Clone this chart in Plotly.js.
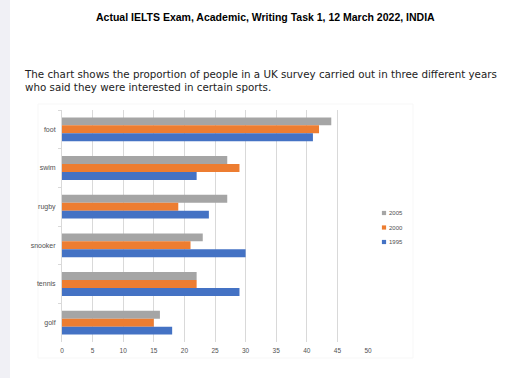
<!DOCTYPE html>
<html><head><meta charset="utf-8">
<script src="https://cdn.plot.ly/plotly-3.0.1.min.js"></script>
<style>html,body{margin:0;padding:0;background:#fff;}#chart{width:512px;height:378px;}</style>
</head><body><div id="chart"></div>
<script>
const sports = ["foot", "swim", "rugby", "snooker", "tennis", "golf"];
const years = ["2005", "2000", "1995"];
const v2005 = [44, 27, 27, 23, 22, 16];
const v2000 = [42, 29, 19, 21, 22, 15];
const v1995 = [41, 22, 24, 30, 29, 18];
const xTicks = [0, 5, 10, 15, 20, 25, 30, 35, 40, 45, 50];
const pageTitle = "Actual IELTS Exam, Academic, Writing Task 1, 12 March 2022, INDIA";
const description = "The chart shows the proportion of people in a UK survey carried out in three different years<br>who said they were interested in certain sports.";

const colors = ["#a5a5a5", "#ed7d31", "#4472c4"];
const series = [v2005, v2000, v1995];

// plot-area pixel geometry
const L = 62, R = 368, T = 110, B = 342, W = 512, H = 378;
const px = x => (x - L) / (R - L);
const py = y => (B - y) / (B - T);

const traces = series.map((vals, i) => ({
  type: "bar", orientation: "h", name: years[i], y: sports, x: vals,
  marker: {color: colors[i], line: {width: 0}},
  hoverinfo: "x+y+name"
}));

const layout = {
  width: W, height: H,
  margin: {l: L, r: W - R, t: T, b: H - B, pad: 0},
  paper_bgcolor: "#ffffff", plot_bgcolor: "#ffffff",
  barmode: "group", bargap: 0.385, bargroupgap: 0,
  font: {family: "Liberation Sans, Arial, sans-serif", color: "#505050", size: 6},
  xaxis: {
    range: [0, 50], tickvals: xTicks, ticktext: xTicks.map(String),
    showgrid: true, gridcolor: "#d9d9d9", gridwidth: 1, zeroline: false,
    showline: false, ticks: "", ticklabelstandoff: 3,
    tickfont: {size: 6.5, color: "#505050"}, fixedrange: true
  },
  yaxis: {
    type: "category", autorange: "reversed", categoryorder: "array", categoryarray: sports,
    showgrid: false, zeroline: false, showline: true, linecolor: "#d9d9d9", linewidth: 1,
    ticks: "outside", tickson: "boundaries", ticklen: 3, tickcolor: "#d9d9d9",
    ticklabelstandoff: 4, tickfont: {size: 7, color: "#505050"}, fixedrange: true
  },
  legend: {
    x: px(372), xanchor: "left", y: py(205), yanchor: "top",
    font: {size: 6, color: "#505050"}, bgcolor: "rgba(0,0,0,0)",
    traceorder: "normal", itemwidth: 30, tracegroupgap: 0
  },
  showlegend: true,
  shapes: [
    {type: "rect", xref: "paper", yref: "paper", x0: px(0), x1: px(10), y0: py(H), y1: py(0),
     fillcolor: "#f0f0f5", line: {width: 0}, layer: "below"},
    {type: "rect", xref: "paper", yref: "paper", x0: px(38), x1: px(413), y0: py(358), y1: py(104),
     fillcolor: "rgba(0,0,0,0)", line: {color: "#f7f7f7", width: 1}, layer: "below"}
  ],
  annotations: [
    {xref: "paper", yref: "paper", x: px(265), y: py(17), xanchor: "center", yanchor: "middle",
     text: "<b>" + pageTitle + "</b>", showarrow: false,
     font: {family: "Liberation Sans, Arial", size: 10.5, color: "#000"}},
    {xref: "paper", yref: "paper", x: px(22), y: py(66), xanchor: "left", yanchor: "top", align: "left",
     text: description, showarrow: false,
     font: {family: "DejaVu Sans, Verdana, sans-serif", size: 10.3, color: "#222"}}
  ]
};

Plotly.newPlot("chart", traces, layout, {displayModeBar: false, staticPlot: true}).then(gd => {
  const items = document.querySelectorAll(".legend .traces");
  items.forEach((g, i) => {
    const p = g.querySelector(".legendpoints path");
    const t = g.querySelector("text.legendtext");
    if (!p || !t) return;
    const pt = p.getAttribute("transform") || "";
    p.setAttribute("transform", pt + " scale(0.35)");
    const pr = p.getBoundingClientRect();
    const cx = pr.left + pr.width / 2, cy = pr.top + pr.height / 2;
    const dy = (213 + 14.5 * i) - cy;
    const dx = 384 - cx;
    const m = (g.getAttribute("transform") || "").match(/translate\(\s*([-\d.e]+)[ ,]+([-\d.e]+)\s*\)/);
    if (m) g.setAttribute("transform", "translate(" + m[1] + "," + (parseFloat(m[2]) + dy) + ")");
    p.setAttribute("transform", "translate(" + dx + ",0) " + pt + " scale(0.35)");
    const tr = t.getBoundingClientRect();
    const tx = parseFloat(t.getAttribute("x") || "0");
    t.setAttribute("x", tx + (389 - tr.left));
  });
});
</script></body></html>
